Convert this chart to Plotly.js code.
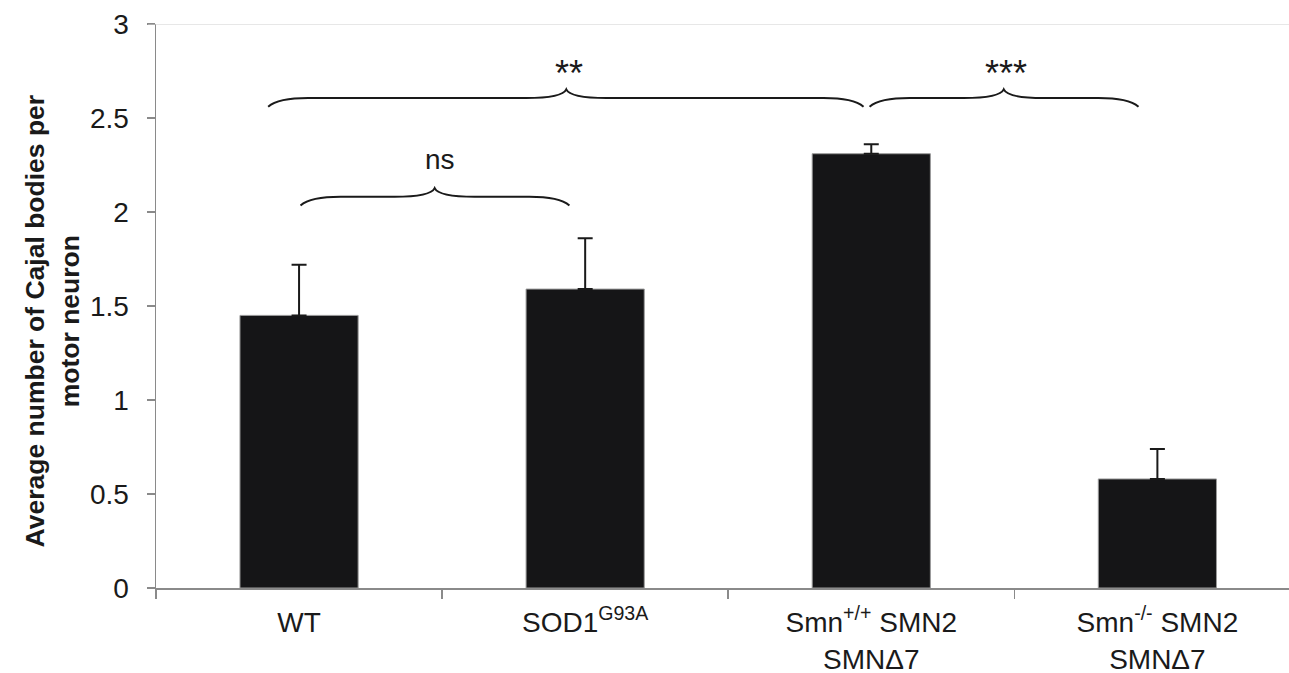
<!DOCTYPE html>
<html>
<head>
<meta charset="utf-8">
<script src="https://cdn.plot.ly/plotly-3.0.1.min.js"></script>
<style>html,body{margin:0;padding:0;background:#fff;}#chart{width:1289px;height:673px;}</style>
</head>
<body>
<div id="chart"></div>
<script>
// ---- data ----
const categories = ['WT', 'SOD1<sup>G93A</sup>', 'Smn<sup>+/+</sup> SMN2<br>SMNΔ7', 'Smn<sup>-/-</sup> SMN2<br>SMNΔ7'];
const meanValues = [1.45, 1.59, 2.31, 0.58];
const semValues = [0.27, 0.27, 0.05, 0.16];
const yTickVals = [0, 0.5, 1, 1.5, 2, 2.5, 3];
const yTickText = ['0', '0.5', '1', '1.5', '2', '2.5', '3'];
const yTitle = '<b>Average number of Cajal bodies per<br>motor neuron</b>';
const braceLabels = ['**', 'ns', '***'];
const braceFrom = [-0.108, 0.005, 1.994];
const braceTo = [1.973, 0.945, 2.934];
const braceMid = [0.934, 0.474, 2.463];
const braceLevel = [2.606, 2.081, 2.606];

const FONT = 'Liberation Sans, Arial, sans-serif';
const ink = '#1a1a1a';

function bracePath(x0, x1, xm, yLine) {
  const dx = 0.14, dy = 0.046;
  const yEnd = yLine - dy, yTip = yLine + dy;
  return 'M' + x0 + ',' + yEnd +
    ' Q' + (x0 + dx * 0.25) + ',' + yLine + ' ' + (x0 + dx) + ',' + yLine +
    ' L' + (xm - dx) + ',' + yLine +
    ' Q' + (xm - dx * 0.1) + ',' + yLine + ' ' + xm + ',' + yTip +
    ' Q' + (xm + dx * 0.1) + ',' + yLine + ' ' + (xm + dx) + ',' + yLine +
    ' L' + (x1 - dx) + ',' + yLine +
    ' Q' + (x1 - dx * 0.25) + ',' + yLine + ' ' + x1 + ',' + yEnd;
}

const shapes = [];
const annotations = [];
for (let i = 0; i < braceLabels.length; i++) {
  shapes.push({
    type: 'path', xref: 'x2', yref: 'y',
    path: bracePath(braceFrom[i], braceTo[i], braceMid[i], braceLevel[i]),
    line: {color: ink, width: 2}
  });
  const isStar = braceLabels[i].indexOf('*') >= 0;
  annotations.push({
    xref: 'x2', yref: 'y', x: braceMid[i] + (isStar ? 0.008 : 0.018),
    y: braceLevel[i] + (isStar ? 0.012 : 0.105),
    text: braceLabels[i], showarrow: false, xanchor: 'center', yanchor: 'bottom',
    font: {family: FONT, size: isStar ? 36 : 28, color: ink}
  });
}
// y-axis title
annotations.push({
  xref: 'paper', yref: 'paper', x: -0.0914, y: 0.4734, xanchor: 'center', yanchor: 'middle',
  text: yTitle, textangle: -90, showarrow: false,
  font: {family: FONT, size: 26.5, color: ink}
});
// light top border of plot area
shapes.push({type: 'line', xref: 'paper', yref: 'y', x0: -0.007, x1: 1, y0: 3, y1: 3,
  line: {color: '#d0d0d0', width: 1.2}});

const trace = {
  type: 'bar', x: categories, y: meanValues, width: 0.413,
  marker: {color: '#151517', line: {color: '#9a9a9a', width: 1}},
  error_y: {type: 'data', array: semValues, arrayminus: semValues.map(() => 0), symmetric: false,
    color: ink, thickness: 2, width: 7.5},
  hoverinfo: 'none'
};
const dummy = {type: 'scatter', x: [0], y: [0], xaxis: 'x2', yaxis: 'y', mode: 'markers',
  marker: {opacity: 0}, hoverinfo: 'none', showlegend: false};

const layout = {
  width: 1289, height: 673,
  margin: {l: 156, r: 0, t: 24, b: 85},
  paper_bgcolor: '#fff', plot_bgcolor: '#fff',
  showlegend: false,
  font: {family: FONT, size: 28, color: ink},
  xaxis: {
    type: 'category', range: [-0.5, 3.46], tickson: 'boundaries',
    ticks: 'outside', ticklen: 9, tickcolor: '#8a8a8a', tickwidth: 1.5,
    showline: true, linecolor: '#8a8a8a', linewidth: 1.5,
    showgrid: false, zeroline: false, ticklabelstandoff: 9,
    tickfont: {family: FONT, size: 28, color: ink}
  },
  xaxis2: {overlaying: 'x', range: [-0.5, 3.46], visible: false, showgrid: false, zeroline: false},
  yaxis: {
    range: [0, 3], tickvals: yTickVals, ticktext: yTickText,
    ticks: 'outside', ticklen: 8, tickcolor: '#8a8a8a', tickwidth: 1.5,
    showline: true, linecolor: '#8a8a8a', linewidth: 1.5,
    showgrid: false, zeroline: false, ticklabelstandoff: 12,
    tickfont: {family: FONT, size: 28, color: ink}
  },
  shapes: shapes,
  annotations: annotations
};

Plotly.newPlot('chart', [trace, dummy], layout, {displayModeBar: false, staticPlot: true});
</script>
</body>
</html>
